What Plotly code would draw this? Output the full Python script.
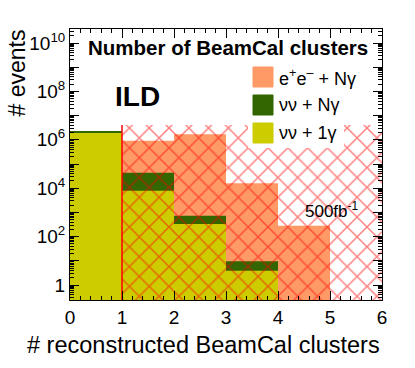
import plotly.graph_objects as go

# bin centres of the "# reconstructed BeamCal clusters" histogram (bins of width 1)
bin_centers = [0.5, 1.5, 2.5, 3.5, 4.5, 5.5]
bin_width = 1.0

# events per bin
ee_Ngamma = [None, 9.2e5, 1.7e6, 1.6e4, 280, None]      # e+e- + N gamma
nunu_Ngamma = [2.3e6, 4.4e4, 730, 9.5, None, None]      # nu nu + N gamma
nunu_1gamma = [1.9e6, 7.9e3, 330, 3.9, None, None]      # nu nu + 1 gamma

# vetoed region (>= 1 BeamCal cluster), drawn hatched
cut_lo, cut_hi = 1.0, 6.0
cut_top = 4.1e6

labels = ["e<sup>+</sup>e<sup>\u2013</sup> + N\u03b3", "\u03bd\u03bd + N\u03b3", "\u03bd\u03bd + 1\u03b3"]
colors = ["#ff9966", "#336600", "#cccc00"]

ytick_vals = [10 ** k for k in range(0, 11)]
ytick_text = ["1" if k == 0 else ("10<sup>%d</sup>" % k if k % 2 == 0 else "") for k in range(0, 11)]

FONT = "Liberation Sans, Arial, Helvetica, sans-serif"

# plot area in screen pixels (body margin removed in the page)
W, H = 415, 368
L, R, T, B = 70, 382, 29, 300


def px2x(px):
    return (px - L) / (R - L)


def px2y(py):
    return 1 - (py - T) / (B - T)


fig = go.Figure()

for vals, col in zip([ee_Ngamma, nunu_Ngamma, nunu_1gamma], colors):
    fig.add_trace(go.Bar(x=bin_centers, y=vals, width=bin_width,
                         marker=dict(color=col, line_width=0), showlegend=False))

# hatched cut region
fig.add_trace(go.Bar(
    x=[(cut_lo + cut_hi) / 2], y=[cut_top], width=[cut_hi - cut_lo],
    marker=dict(color="rgba(0,0,0,0)", line_width=0,
                pattern=dict(shape="x", fgcolor="red", bgcolor="rgba(0,0,0,0)",
                             size=14, solidity=0.2, fillmode="overlay")),
    showlegend=False))
fig.add_trace(go.Scatter(x=[cut_lo, cut_lo], y=[0.1, cut_top], mode="lines",
                         line=dict(color="red", width=1.5), showlegend=False))

fig.update_layout(
    width=W, height=H,
    margin=dict(l=L, r=W - R, t=T, b=H - B),
    paper_bgcolor="white", plot_bgcolor="white",
    barmode="overlay",
    font=dict(family=FONT, color="black"),
    showlegend=False,
)

fig.update_xaxes(
    range=[0, 6], tickvals=list(range(0, 7)), ticks="inside", ticklen=9,
    tickcolor="black", showline=True, linecolor="black", linewidth=1,
    mirror="allticks", showgrid=False, zeroline=False,
    tickfont=dict(size=19),
    minor=dict(dtick=0.2, ticks="inside", ticklen=4, tickcolor="black", showgrid=False),
)
fig.update_yaxes(
    type="log", range=[-0.62, 10.58], tickmode="array",
    tickvals=ytick_vals, ticktext=ytick_text,
    ticks="inside", ticklen=9, tickcolor="black", showline=True,
    linecolor="black", linewidth=1, mirror="allticks", showgrid=False,
    zeroline=False, tickfont=dict(size=19),
    minor=dict(dtick="D1", ticks="inside", ticklen=4, tickcolor="black", showgrid=False),
)

# legend box (white, covering the hatch)
fig.add_shape(type="rect", xref="paper", yref="paper",
              x0=px2x(248), x1=px2x(344), y0=px2y(148), y1=px2y(60),
              fillcolor="white", line_width=0, layer="above")
for i, (lab, col) in enumerate(zip(labels, colors)):
    cy = 77 + 28 * i
    fig.add_shape(type="rect", xref="paper", yref="paper",
                  x0=px2x(253), x1=px2x(273), y0=px2y(cy + 10), y1=px2y(cy - 10),
                  fillcolor=col, line=dict(color=col, width=1), layer="above")
    fig.add_annotation(text=lab, xref="paper", yref="paper", x=px2x(277), y=px2y(cy),
                       xanchor="left", yanchor="middle", showarrow=False,
                       font=dict(size=18))

fig.add_annotation(text="<b>Number of BeamCal clusters</b>", xref="paper", yref="paper",
                   x=px2x(86), y=px2y(48), xanchor="left", yanchor="middle",
                   showarrow=False, font=dict(size=20.5))
fig.add_annotation(text="<b>ILD</b>", xref="paper", yref="paper",
                   x=px2x(137), y=px2y(96), xanchor="center", yanchor="middle",
                   showarrow=False, font=dict(size=28))
fig.add_annotation(text="500fb<sup>-1</sup>", xref="paper", yref="paper",
                   x=px2x(303), y=px2y(210), xanchor="left", yanchor="middle",
                   showarrow=False, font=dict(size=17))

# axis titles, right-aligned like ROOT
fig.add_annotation(text="# reconstructed BeamCal clusters", xref="paper", yref="paper",
                   x=1.0, y=px2y(345), xanchor="right", yanchor="middle",
                   showarrow=False, font=dict(size=23.5))
fig.add_annotation(text="# events", xref="paper", yref="paper", textangle=-90,
                   x=px2x(16), y=px2y(28), xanchor="center", yanchor="top",
                   showarrow=False, font=dict(size=23))

fig.write_html("out.html", config={"displayModeBar": False},
               post_script="document.body.style.margin='0';")
